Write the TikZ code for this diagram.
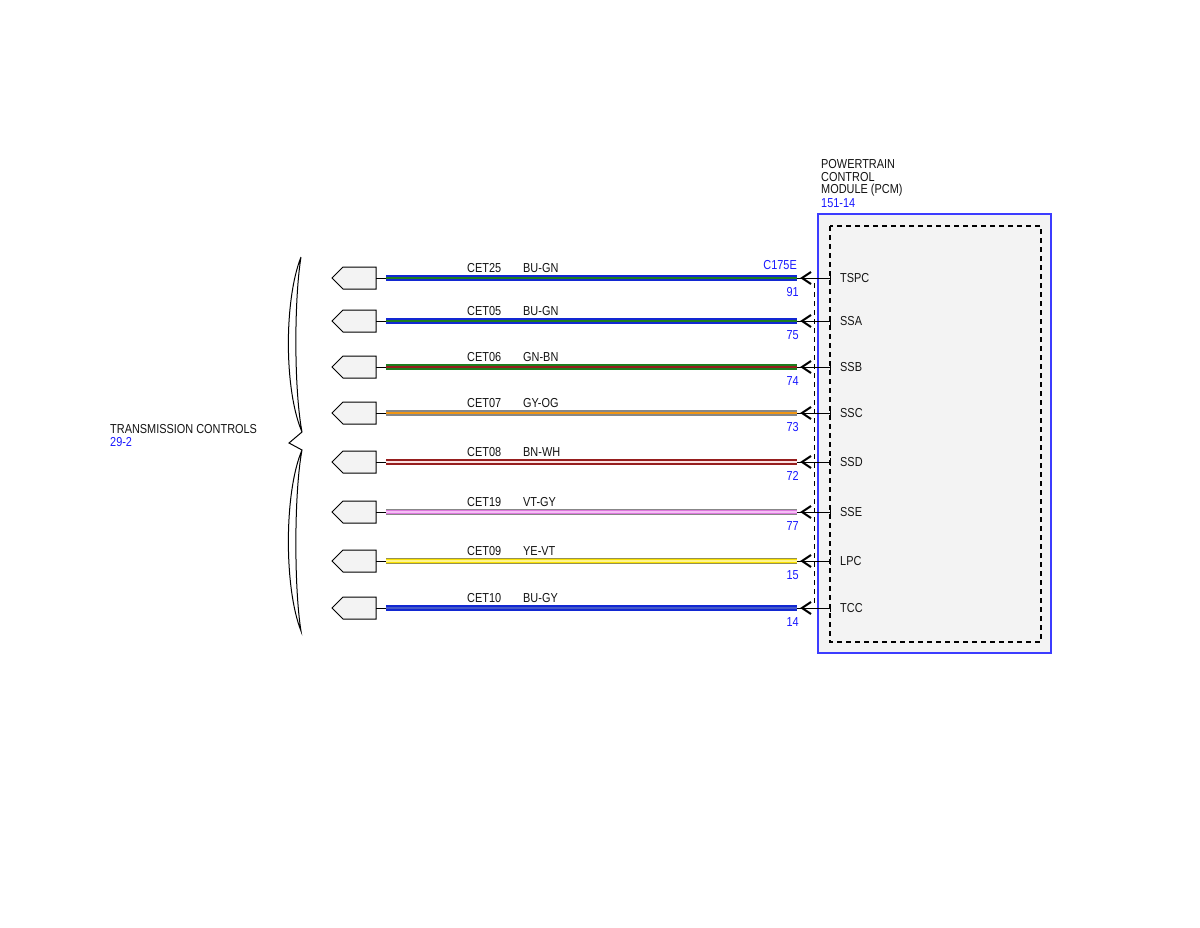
\documentclass[tikz,border=0pt]{standalone}
\usepackage{fontspec}
\setmainfont{Liberation Sans}[FakeStretch=0.84]
\definecolor{cBU}{RGB}{18,40,210}
\definecolor{cGN}{RGB}{30,125,30}
\definecolor{cBN}{RGB}{150,30,30}
\definecolor{cGY}{RGB}{135,135,135}
\definecolor{cOG}{RGB}{240,150,20}
\definecolor{cWH}{RGB}{250,225,225}
\definecolor{cVT}{RGB}{220,120,220}
\definecolor{cVTl}{RGB}{245,190,245}
\definecolor{cYE}{RGB}{250,225,0}
\definecolor{cYEl}{RGB}{255,245,140}
\definecolor{cYEd}{RGB}{150,145,80}
\definecolor{cBUg}{RGB}{70,90,200}
\definecolor{txtblue}{RGB}{25,25,255}
\definecolor{txtblack}{RGB}{20,20,20}
\definecolor{boxfill}{RGB}{243,243,243}
\definecolor{boxblue}{RGB}{60,60,255}
\tikzset{
  lbl/.style={inner sep=0pt, font=\fontsize{13}{15}\selectfont, text=txtblack},
  bluelbl/.style={lbl, text=txtblue},
  connshape/.style={draw=black, fill=boxfill, line width=1pt, line join=miter},
  stub/.style={draw=black, line width=1pt},
  pinline/.style={draw=black, line width=0.9pt},
  chev/.style={draw=black, line width=2pt},
}
\begin{document}
\begin{tikzpicture}[x=1pt,y=-1pt]
\useasboundingbox (0,0) rectangle (1200,927);
\fill[white] (0,0) rectangle (1200,927);

% PCM module
\node[lbl, anchor=west] (pcmt1) at (821,164) {POWERTRAIN};
\node[lbl, anchor=west] (pcmt2) at (821,177) {CONTROL};
\node[lbl, anchor=west] (pcmt3) at (821,190) {MODULE (PCM)};
\node[bluelbl, anchor=west] (pcmt4) at (821,203) {151-14};
\draw[boxblue, fill=boxfill, line width=1.1pt] (818,214) rectangle (1051,653);
\draw[black, dash pattern=on 5pt off 4pt, line width=1.1pt] (830,226) rectangle (1041,642);

% connector C175E
\draw[black, dash pattern=on 5pt off 4pt, line width=1pt] (814,283) -- (814,604);
\node[bluelbl, anchor=east] (c175) at (797,265) {C175E};

% left component
\node[lbl, anchor=west] (tc1) at (110,429) {TRANSMISSION CONTROLS};
\node[bluelbl, anchor=west] (tc2) at (110,442) {29-2};
\draw[black, line width=1pt, line join=miter]
  (301,257) .. controls (284,300) and (284,390) .. (302,432)
  -- (289,443) -- (302,450)
  .. controls (284,492) and (284,588) .. (301,631)
  .. controls (294,588) and (294,492) .. (302,450)
  (302,432) .. controls (294,390) and (294,300) .. (301,257);

% wires
\foreach \i/\y/\cet/\col/\ca/\cb/\cc/\pin/\num in {
  1/278/CET25/BU-GN/cBU/cBU/cGN/TSPC/91,
  2/321/CET05/BU-GN/cBU/cBU/cGN/SSA/75,
  3/367/CET06/GN-BN/cGN/cGN/cBN/SSB/74,
  4/413/CET07/GY-OG/cGY/cGY/cOG/SSC/73,
  5/462/CET08/BN-WH/cBN/cBN/cWH/SSD/72,
  6/512/CET19/VT-GY/cGY/cVT/cVTl/SSE/77,
  7/561/CET09/YE-VT/cYEd/cYE/cYEl/LPC/15,
  8/608/CET10/BU-GY/cBU/cBU/cBUg/TCC/14}
{
  \draw[connshape] (332,\y) -- (343,\y-11) -- (376,\y-11) -- (376,\y+11) -- (343,\y+11) -- cycle;
  \coordinate (S\i) at (376,\y);
  \coordinate (L\i) at (386,\y);
  \coordinate (R\i) at (797,\y);
  \coordinate (P\i) at (830,\y);
  \draw[stub] (S\i) -- (L\i);
  \draw[line width=6pt, \ca] (L\i) -- (R\i);
  \draw[line width=4pt, \cb] (L\i) -- (R\i);
  \draw[line width=1.6pt, \cc] (L\i) -- (R\i);
  \draw[pinline] (R\i) -- (P\i);
  \draw[pinline] (830,\y-4) -- (830,\y+4);
  \draw[chev] (811,\y-6) .. controls (806,\y-3) .. (802,\y) .. controls (806,\y+3) .. (811,\y+6);
  \node[lbl, anchor=west] (cet\i) at (467,\y-10) {\cet};
  \node[lbl, anchor=west] (col\i) at (523,\y-10) {\col};
  \node[lbl, anchor=west] (pin\i) at (840,\y) {\pin};
  \node[bluelbl, anchor=east] (num\i) at (799,\y+14) {\num};
}
\end{tikzpicture}
\end{document}
